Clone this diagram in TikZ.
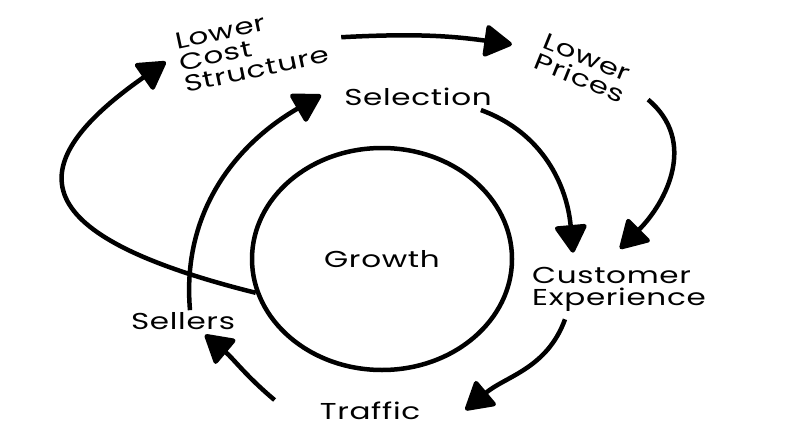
\documentclass[tikz,border=0pt]{standalone}
\usepackage{fontspec}
\setmainfont{Poppins}[FakeStretch=1.35, LetterSpace=3]
\usetikzlibrary{arrows.meta, shapes.geometric}

\begin{document}
\begin{tikzpicture}[
				x=1pt, y=1pt,
				% Styles des étiquettes et des flèches
				etiquette/.style={font=\fontsize{23}{22}\selectfont, align=left, inner sep=2pt},
				fleche/.style={-{Triangle[length=30pt, width=34pt, round]}, line width=4.5pt},
				roue/.style={draw, ellipse, line width=4.5pt, minimum width=260pt, minimum height=222pt, font=\fontsize{23}{22}\selectfont},
				]
				\useasboundingbox (0,0) rectangle (800,440);
				
				
				\node[roue] (croissance) at (382,181) {Growth};
				
				\node[etiquette, rotate=12] (cout) at (252,392) {Lower\\Cost\\Structure};
				\node[etiquette, rotate=-22] (prix) at (584,372) {Lower\\Prices};
				\node[etiquette] (selection) at (418,343) {Selection};
				\node[etiquette] (client) at (619,151) {Customer\\Experience};
				\node[etiquette] (trafic) at (370,29) {Traffic};
				\node[etiquette] (vendeurs) at (183,119) {Sellers};
				
				
				% La boucle extérieure
				\draw[fleche] ([shift={(15,-5)}]cout.east) to[out=3, in=172] ([shift={(-26,5)}]prix.west);
				\draw[fleche] ([shift={(18,-13)}]prix.east) to[out=-40, in=45, looseness=1.1] ([shift={(1,16)}]client.north);
				\draw[fleche] (croissance.195) .. controls +(166:235pt) and +(215:185pt) .. ([shift={(-12,2)}]cout.west);
				
				
				% La boucle intérieure
				\draw[fleche] ([shift={(-13,-2)}]selection.south east) to[out=-20, in=95] ([shift={(-46,12)}]client.north);
				\draw[fleche] ([shift={(-54,-6)}]client.south) to[out=-110, in=40] ([shift={(43,1)}]trafic.east);
				\draw[fleche] ([shift={(-43,11)}]trafic.west) to[out=140, in=-40] ([shift={(22,-3)}]vendeurs.south);
				\draw[fleche] ([shift={(7,0)}]vendeurs.north) to[out=95, in=-150] ([shift={(-21,2)}]selection.west);
			\end{tikzpicture}
\end{document}
